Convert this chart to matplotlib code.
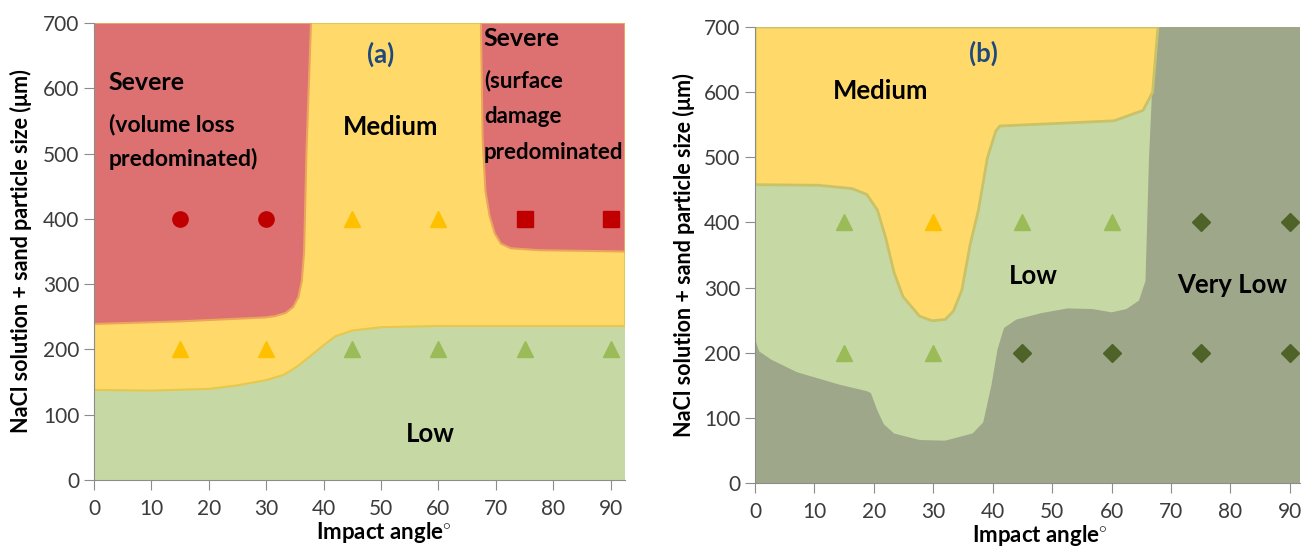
import matplotlib
matplotlib.use('Agg')
import matplotlib.pyplot as plt
from matplotlib.patches import Polygon

plt.rcParams['font.family'] = ['Lato', 'DejaVu Sans']
plt.rcParams['mathtext.fontset'] = 'custom'
plt.rcParams['mathtext.bf'] = 'Lato:bold'
plt.rcParams['mathtext.rm'] = 'Lato'

# colours of the wear regimes
RED = '#dd7070'
YELLOW = '#ffd96a'
LIGHT_GREEN = '#c6d9a4'
DARK_GREEN = '#9ea78a'

# ---- panel (a): 3.5% NaCl + sand, regime boundaries (angle, size) ----
a_low_top = [(0, 138), (10, 137), (20, 139.5), (25, 145), (30, 153), (33, 161),
             (35, 171.5), (37, 185), (40, 206.5), (42, 220), (45, 229), (50, 234),
             (60, 236), (92.5, 236)]
a_severe_left = [(0, 700), (37.8, 700), (37.0, 500), (36.6, 350), (36.2, 305),
                 (35.6, 280), (34.7, 265), (33.4, 256), (31.5, 251), (29.8, 249),
                 (15, 243), (0, 239)]
a_severe_right = [(67.4, 700), (92.5, 700), (92.5, 350), (77.6, 352), (72.6, 355),
                  (70.9, 362), (69.8, 378), (68.9, 405), (68.2, 442), (67.7, 523)]

a_circles = ([15, 30], [400, 400])
a_squares = ([75, 90], [400, 400])
a_tri_yellow = ([45, 60, 15, 30], [400, 400, 200, 200])
a_tri_green = ([45, 60, 75, 90], [200, 200, 200, 200])

# ---- panel (b) ----
b_medium = [(0, 700), (67.8, 700), (66.9, 600), (65.3, 572), (60.4, 556),
            (41.2, 548), (40.5, 540), (39.1, 499), (37.6, 419), (36.2, 366),
            (34.8, 296), (33.4, 264), (32.0, 251), (29.8, 249), (27.7, 256),
            (24.9, 286), (23.4, 323), (22.0, 376), (20.6, 419), (18.8, 443),
            (16.3, 452), (10.7, 457), (0, 458)]
b_very_low = [(0, 0), (0, 221), (0.7, 202), (2.8, 189), (7.1, 170), (14.2, 151),
              (18.8, 141), (19.5, 138), (20.6, 111), (21.7, 90), (23.4, 76),
              (27.7, 66), (32.0, 65), (36.6, 76), (38.4, 93), (39.8, 151),
              (40.8, 205), (41.9, 238), (44.0, 251), (48.3, 261), (52.6, 268),
              (56.8, 267), (60.0, 262), (62.5, 267), (64.6, 280), (65.7, 310),
              (66.3, 500), (66.8, 600), (67.5, 700), (92, 700), (92, 0)]

b_tri_green = ([15, 45, 60, 15, 30], [400, 400, 400, 200, 200])
b_tri_yellow = ([30], [400])
b_diamonds = ([75, 90, 45, 60, 75, 90], [400, 400, 200, 200, 200, 200])

fig = plt.figure(figsize=(13.07, 5.47), dpi=100)
ax_a = fig.add_axes([94 / 1307, 67 / 547, 531 / 1307, 457 / 547])
ax_b = fig.add_axes([755 / 1307, 64 / 547, 545 / 1307, 456 / 547])


def style_axes(ax, xmax, xlabel_x, ylabel_x):
    ax.set_xlim(0, xmax)
    ax.set_ylim(0, 700)
    ax.set_xticks(range(0, 91, 10))
    ax.set_yticks(range(0, 701, 100))
    for side in ('top', 'right'):
        ax.spines[side].set_visible(False)
    for side in ('left', 'bottom'):
        ax.spines[side].set_color('#8c8c8c')
    ax.tick_params(direction='out', length=7, color='#8c8c8c',
                   labelsize=15, labelcolor='#3c3c3c')
    ax.tick_params(axis='x', pad=7)
    ax.set_xlabel('Impact angle$^{\\mathbf{\\circ}}$', fontsize=16, fontweight='bold')
    ax.xaxis.set_label_coords(xlabel_x, -0.088)
    ax.set_ylabel('NaCl solution + sand particle size (\u03bcm)', fontsize=15.5,
                  fontweight='bold')
    ax.yaxis.set_label_coords(ylabel_x, 0.5)


def region_text(ax, x, y, s, size=18.5, **kw):
    ax.text(x, y, s, fontsize=size, fontweight='bold', va='center', **kw)


# panel (a)
ax = ax_a
style_axes(ax, 92.5, 0.545, -0.117)
ax.set_facecolor(LIGHT_GREEN)
yellow_a = [(0, 700), (92.5, 700)] + a_low_top[::-1]
ax.add_patch(Polygon(yellow_a, closed=True, facecolor=YELLOW,
                     edgecolor='#e6c84a', lw=1.5, zorder=1))
for poly in (a_severe_left, a_severe_right):
    ax.add_patch(Polygon(poly, closed=True, facecolor=RED,
                         edgecolor='#eba55c', lw=1.5, zorder=2))
ax.plot(*a_circles, 'o', color='#c00000', ms=11, zorder=5)
ax.plot(*a_squares, 's', color='#c00000', ms=11, zorder=5)
ax.plot(*a_tri_yellow, '^', color='#ffc000', ms=12, zorder=5)
ax.plot(*a_tri_green, '^', color='#9bbb59', ms=12, zorder=5)

region_text(ax, 2.6, 609, 'Severe', 18)
region_text(ax, 2.6, 545, '(volume loss', 16.5)
region_text(ax, 2.6, 491, 'predominated)', 16.5)
region_text(ax, 67.9, 677, 'Severe', 18)
region_text(ax, 67.9, 612, '(surface', 16)
region_text(ax, 67.9, 557, 'damage', 16)
region_text(ax, 67.9, 502, 'predominated', 16)
region_text(ax, 51.6, 540, 'Medium', ha='center')
region_text(ax, 58.6, 70, 'Low', ha='center')
region_text(ax, 50, 652, '(a)', color='#1f497d', ha='center')

# panel (b)
ax = ax_b
style_axes(ax, 91.7, 0.523, -0.11)
ax.set_facecolor(LIGHT_GREEN)
ax.add_patch(Polygon(b_very_low, closed=True, facecolor=DARK_GREEN,
                     edgecolor='none', zorder=1))
ax.add_patch(Polygon(b_medium, closed=True, facecolor=YELLOW,
                     edgecolor='#c9c267', lw=2, zorder=2))
ax.plot(*b_tri_green, '^', color='#9bbb59', ms=12, zorder=5)
ax.plot(*b_tri_yellow, '^', color='#ffc000', ms=12, zorder=5)
ax.plot(*b_diamonds, 'D', color='#4f6228', ms=9, zorder=5)

region_text(ax, 21.2, 602, 'Medium', ha='center')
region_text(ax, 46.9, 317, 'Low', ha='center')
region_text(ax, 80.3, 304, 'Very Low', ha='center')
region_text(ax, 38.4, 660, '(b)', color='#1f497d', ha='center')

fig.savefig('out.png', dpi=100)
